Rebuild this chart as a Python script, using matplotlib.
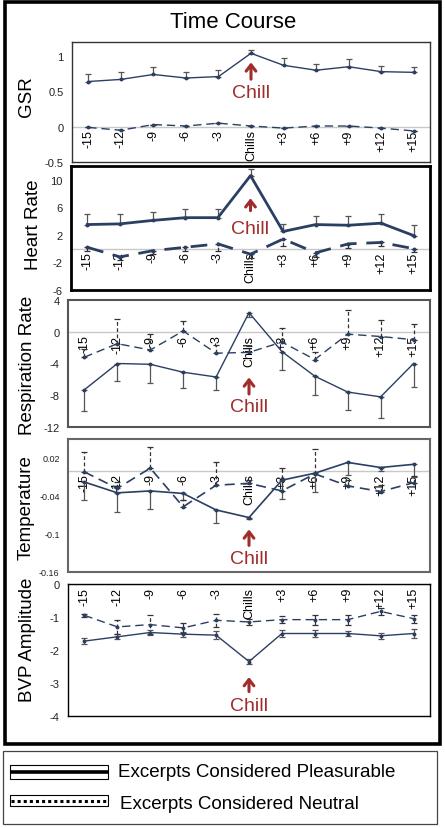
import numpy as np
import matplotlib.pyplot as plt
from matplotlib.patches import Rectangle
from matplotlib.lines import Line2D

plt.rcParams['font.family'] = ['Liberation Sans', 'DejaVu Sans']

# categories (seconds relative to chill)
cats = ['-15', '-12', '-9', '-6', '-3', 'Chills', '+3', '+6', '+9', '+12', '+15']

# GSR
gsr_p = [0.64, 0.67, 0.74, 0.69, 0.71, 1.04, 0.87, 0.80, 0.85, 0.78, 0.77]
gsr_p_err = [0.10, 0.10, 0.10, 0.08, 0.09, 0.05, 0.10, 0.09, 0.11, 0.08, 0.07]
gsr_n = [-0.01, -0.05, 0.03, 0.01, 0.05, 0.01, -0.02, 0.01, 0.01, -0.02, -0.06]
gsr_n_err = [0, 0, 0, 0, 0, 0, 0, 0, 0, 0, 0]

# heart rate
hr_p = [3.5, 3.6, 4.1, 4.5, 4.5, 10.6, 2.5, 3.5, 3.4, 3.7, 1.9]
hr_p_err = [1.5, 1.4, 1.2, 1.3, 1.2, 1.0, 1.1, 1.2, 1.4, 1.4, 1.5]
hr_n = [0.2, -1.2, -0.3, 0.2, 0.7, -0.8, 1.4, -0.6, 0.7, 0.9, 0.0]
hr_n_err = [0.6, 0.5, 0.5, 0.5, 1.0, 0.6, 1.0, 0.6, 0.6, 0.5, 0.5]

# respiration rate
rr_p = [-7.3, -4.0, -4.1, -5.1, -5.7, 2.4, -2.5, -5.6, -7.6, -8.2, -4.0]
rr_p_err = [2.7, 2.2, 2.4, 2.0, 1.7, 0.6, 2.3, 2.4, 2.2, 2.7, 3.0]
rr_n = [-3.2, -1.5, -2.3, 0.1, -2.7, -2.6, -1.3, -3.5, -0.3, -0.6, -1.0]
rr_n_err = [1.0, 3.1, 2.0, 1.3, 1.0, 0.8, 1.8, 1.0, 3.1, 2.1, 2.0]

# temperature
temp_p = [-0.018, -0.035, -0.032, -0.036, -0.062, -0.074, -0.015, -0.004, 0.013, 0.005, 0.010]
temp_p_err = [0.029, 0.030, 0.029, 0.010, 0.020, 0.003, 0.030, 0.030, 0.020, 0.005, 0.020]
temp_n = [-0.002, -0.028, 0.004, -0.057, -0.023, -0.020, -0.032, -0.005, -0.024, -0.033, -0.019]
temp_n_err = [0.031, 0.010, 0.033, 0.010, 0.037, 0.005, 0.037, 0.039, 0.010, 0.010, 0.010]

# BVP amplitude
bvp_p = [-1.73, -1.60, -1.47, -1.52, -1.55, -2.35, -1.50, -1.50, -1.50, -1.57, -1.50]
bvp_p_err = [0.10, 0.08, 0.08, 0.08, 0.12, 0.08, 0.10, 0.12, 0.08, 0.10, 0.15]
bvp_n = [-0.95, -1.30, -1.23, -1.33, -1.10, -1.15, -1.08, -1.08, -1.08, -0.83, -1.05]
bvp_n_err = [0.05, 0.20, 0.30, 0.15, 0.20, 0.10, 0.10, 0.15, 0.15, 0.10, 0.12]

W, H = 445, 829
LINE = '#2B3F63'
CHILL = '#A02C2C'

fig = plt.figure(figsize=(W / 100, H / 100), dpi=100)


def px_box(left, top, right, bottom):
    return [left / W, 1 - bottom / H, (right - left) / W, (bottom - top) / H]


def err(vals, d):
    v = np.array(vals, dtype=float)
    z = np.zeros_like(v)
    if d == 'up':
        return [z, v]
    if d == 'down':
        return [v, z]
    return [v, v]


def panel(box, ylabel, lab_xy, p, p_err, p_dir, n, n_err, n_dir, ylim, yticks,
          yticklabels, chill, frame_c, frame_lw, lw, tick_fs=8):
    ax = fig.add_axes(px_box(*box))
    x = np.arange(len(cats))
    ax.axhline(0, color='#C8C8C8', lw=1, zorder=1)
    ax.errorbar(x, p, yerr=err(p_err, p_dir), color=LINE, lw=lw,
                marker='o', ms=1.8, ecolor='#555555', elinewidth=0.9,
                capsize=2.2, capthick=0.9, zorder=4)
    eb2 = ax.errorbar(x, n, yerr=err(n_err, n_dir), color=LINE, lw=lw,
                      ls=(0, (6, 3.5)), marker='o', ms=1.8, ecolor='#333333',
                      elinewidth=0.9, capsize=2.2, capthick=0.9, zorder=4)
    for c in eb2[2]:
        c.set_linestyle((0, (3, 2)))
    ax.set_xlim(-0.5, len(cats) - 0.5)
    ax.set_ylim(*ylim)
    ax.set_xticks([])
    ax.set_yticks(yticks)
    ax.set_yticklabels(yticklabels, fontsize=tick_fs, color='#222222')
    ax.tick_params(axis='y', length=0, pad=6)
    for s in ax.spines.values():
        s.set_color(frame_c)
        s.set_linewidth(frame_lw)
    for i, c in enumerate(cats):
        ax.annotate(c, (i, 0), xytext=(0, -2), textcoords='offset points',
                    rotation=90, ha='center', va='top', fontsize=9, zorder=3)
    tr = ax.get_xaxis_transform()
    a_top, a_bot, t_y = chill
    ax.annotate('', xy=(5, a_top), xytext=(5, a_bot), xycoords=tr, textcoords=tr,
                arrowprops=dict(arrowstyle='->,head_length=0.45,head_width=0.35',
                                color=CHILL, lw=2.2, shrinkA=0, shrinkB=0))
    ax.text(5, t_y, 'Chill', transform=tr, ha='center', va='center',
            fontsize=14, color=CHILL)
    fig.text(lab_xy[0] / W, 1 - lab_xy[1] / H, ylabel, rotation=90,
             ha='center', va='center', fontsize=13.5)
    return ax


panel((72, 43, 430, 163), 'GSR', (27, 97), gsr_p, gsr_p_err, 'up', gsr_n,
      gsr_n_err, 'up', (-0.5, 1.2), [-0.5, 0, 0.5, 1], ['-0.5', '0', '0.5', '1'],
      (0.83, 0.69, 0.58), '#333333', 1.0, 1.0)
panel((71, 167, 430, 291), 'Heart Rate', (33, 225), hr_p, hr_p_err, 'up', hr_n,
      hr_n_err, 'down', (-6, 12), [-6, -2, 2, 6, 10], ['-6', '-2', '2', '6', '10'],
      (0.74, 0.64, 0.50), 'black', 2.0, 2.0)
panel((68, 301, 430, 428), 'Respiration Rate', (27, 365), rr_p, rr_p_err, 'down',
      rr_n, rr_n_err, 'up', (-12, 4), [-12, -8, -4, 0, 4],
      ['-12', '-8', '-4', '0', '4'], (0.39, 0.26, 0.165), '#555555', 1.5, 1.0)
panel((68, 440, 430, 573), 'Temperature', (26, 508), temp_p, temp_p_err, 'down',
      temp_n, temp_n_err, 'up', (-0.16, 0.05), [-0.16, -0.1, -0.04, 0.02],
      ['-0.16', '-0.1', '-0.04', '0.02'], (0.32, 0.2, 0.105), '#666666', 1.5,
      1.2, tick_fs=6.5)
panel((68, 585, 430, 717), 'BVP Amplitude', (27, 640), bvp_p, bvp_p_err, 'both',
      bvp_n, bvp_n_err, 'both', (-4, 0), [-4, -3, -2, -1, 0],
      ['-4', '-3', '-2', '-1', '0'], (0.295, 0.185, 0.08), 'black', 1.0, 1.0)

fig.text(233.5 / W, 1 - 23 / H, 'Time Course', ha='center', va='center',
         fontsize=16)

# frame and legend in pixel space
ov = fig.add_axes([0, 0, 1, 1])
ov.set_xlim(0, W)
ov.set_ylim(H, 0)
ov.axis('off')
ov.patch.set_visible(False)
ov.add_patch(Rectangle((5, 3), 435, 742, fill=False, ec='black', lw=2.6))
ov.add_patch(Rectangle((3, 752), 434, 73, fill=False, ec='#444444', lw=0.9))
ov.add_patch(Rectangle((10, 766), 98, 14, fc='white', ec='black', lw=0.8))
ov.add_line(Line2D([10, 108], [773, 773], color='black', lw=2.6,
                   solid_capstyle='butt'))
ov.add_patch(Rectangle((10, 796), 98, 11, fc='white', ec='black', lw=0.8))
ov.add_line(Line2D([11, 107], [801.5, 801.5], color='black', lw=2.2,
                   ls=(0, (1, 1)), dash_capstyle='butt'))
ov.text(118, 773, 'Excerpts Considered Pleasurable', va='center', ha='left',
        fontsize=13.5)
ov.text(120, 805, 'Excerpts Considered Neutral', va='center', ha='left',
        fontsize=13.5)

fig.savefig('out.png', dpi=100)
